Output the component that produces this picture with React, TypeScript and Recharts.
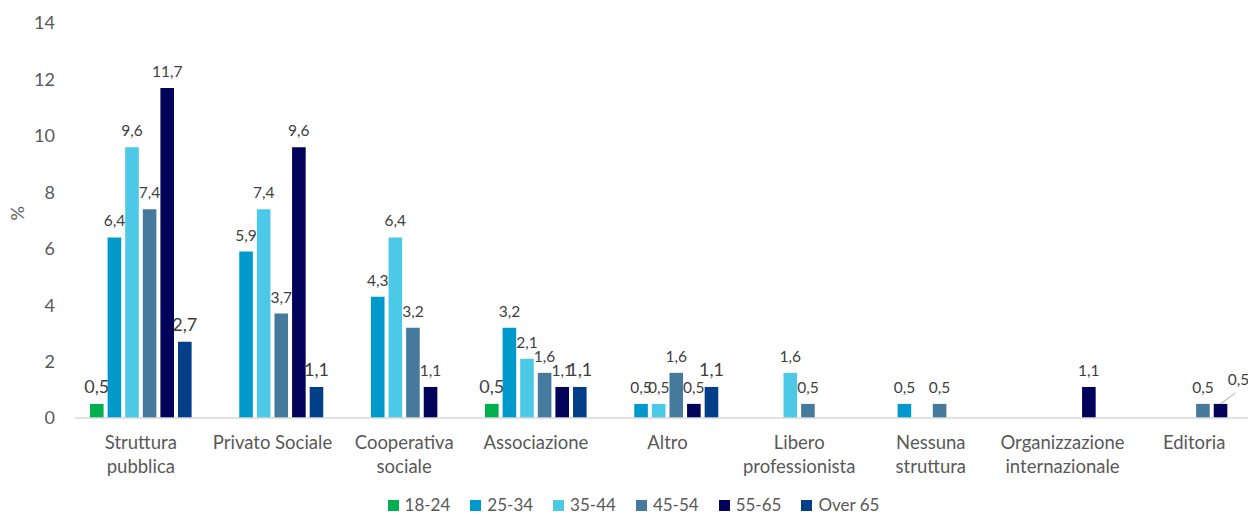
import { Bar, BarChart, LabelList, Legend, XAxis, YAxis } from "recharts";

const FONT = "Lato, 'Open Sans', sans-serif";

// categories (\n = line break in the axis label)
const categories = [
  "Struttura\npubblica",
  "Privato Sociale",
  "Cooperativa\nsociale",
  "Associazione",
  "Altro",
  "Libero\nprofessionista",
  "Nessuna\nstruttura",
  "Organizzazione\ninternazionale",
  "Editoria",
];

const age18_24 = [0.5, null, null, 0.5, null, null, null, null, null];
const age25_34 = [6.4, 5.9, 4.3, 3.2, 0.5, null, 0.5, null, null];
const age35_44 = [9.6, 7.4, 6.4, 2.1, 0.5, 1.6, null, null, null];
const age45_54 = [7.4, 3.7, 3.2, 1.6, 1.6, 0.5, 0.5, null, 0.5];
const age55_65 = [11.7, 9.6, 1.1, 1.1, 0.5, null, null, 1.1, 0.5];
const over65 = [2.7, 1.1, null, 1.1, 1.1, null, null, null, null];

const yTicks = [0, 2, 4, 6, 8, 10, 12, 14];

// the one label Excel pulled out with a leader line
const pulledOut = { series: "55-65", category: "Editoria" };

const series = [
  { key: "18-24", values: age18_24, color: "#00B050", labelSize: 18 },
  { key: "25-34", values: age25_34, color: "#0099CC", labelSize: 15.5 },
  { key: "35-44", values: age35_44, color: "#4BC9E6", labelSize: 15.5 },
  { key: "45-54", values: age45_54, color: "#467A9C", labelSize: 15.5 },
  { key: "55-65", values: age55_65, color: "#02025A", labelSize: 15.5 },
  { key: "Over 65", values: over65, color: "#033F88", labelSize: 18 },
];

const data = categories.map((name, i) => {
  const row: Record<string, any> = { name };
  series.forEach((s) => {
    const v = s.values[i];
    const out = s.key === pulledOut.series && name === pulledOut.category;
    row[s.key] = v;
    row[s.key + "_lbl"] = out ? null : v;
    row[s.key + "_out"] = out ? v : null;
  });
  return row;
});

const fmt = (v: number) => v.toFixed(1).replace(".", ",");

function makeLabel(fontSize: number, outside: boolean) {
  return (props: any) => {
    const { value } = props;
    if (value == null) return null;
    const vb = props.viewBox || props;
    const cx = vb.x + vb.width / 2;
    const top = vb.y;
    if (outside) {
      return (
        <g>
          <line x1={cx} y1={top} x2={cx + 15} y2={top - 11} stroke="#A6A6A6" strokeWidth={1} />
          <text x={cx + 18} y={top - 19} textAnchor="middle" fill="#404040" fontSize={fontSize} fontFamily={FONT}>
            {fmt(value)}
          </text>
        </g>
      );
    }
    return (
      <text x={cx} y={top - 11} textAnchor="middle" fill="#404040" fontSize={fontSize} fontFamily={FONT}>
        {fmt(value)}
      </text>
    );
  };
}

const CategoryTick = (props: any) => {
  const { x, y, payload } = props;
  const lines = String(payload.value).split("\n");
  return (
    <text x={x} y={y} textAnchor="middle" fill="#595959" fontSize={18.5} fontFamily={FONT}>
      {lines.map((l, i) => (
        <tspan key={i} x={x} dy={i === 0 ? 31 : 24}>
          {l}
        </tspan>
      ))}
    </text>
  );
};

const LegendContent = () => (
  <div
    style={{
      height: 20,
      display: "flex",
      justifyContent: "center",
      alignItems: "center",
      paddingLeft: 27,
      fontFamily: FONT,
      fontSize: 17,
      lineHeight: "18px",
      color: "#595959",
    }}
  >
    {series.map((s) => (
      <div key={s.key} style={{ display: "flex", alignItems: "center", marginRight: 20 }}>
        <span style={{ width: 11, height: 11, background: s.color, marginRight: 6, display: "inline-block" }} />
        <span>{s.key}</span>
      </div>
    ))}
  </div>
);

export default function App() {
  return (
    <div style={{ position: "absolute", left: 0, top: 0, width: 1248, height: 515, overflow: "hidden", background: "#fff" }}>
      <BarChart
        width={1270}
        height={515}
        data={data}
        margin={{ top: 23, right: 10, bottom: 17, left: 0 }}
        barSize={13.6}
        barGap={4}
      >
        <XAxis
          dataKey="name"
          interval={0}
          height={60}
          tickLine={false}
          tickSize={0}
          tickMargin={0}
          axisLine={{ stroke: "#D9D9D9", strokeWidth: 1.5 }}
          tick={<CategoryTick />}
        />
        <YAxis
          width={75}
          domain={[0, 14]}
          ticks={yTicks}
          axisLine={false}
          tickLine={false}
          tickSize={0}
          tickMargin={20}
          tick={{ fill: "#595959", fontSize: 18, fontFamily: FONT }}
          label={{ value: "%", angle: -90, position: "insideLeft", offset: 18, fill: "#595959", fontSize: 18, fontFamily: FONT }}
        />
        <Legend verticalAlign="bottom" content={<LegendContent />} wrapperStyle={{ bottom: 0 }} />
        {series.map((s) => (
          <Bar key={s.key} dataKey={s.key} fill={s.color} isAnimationActive={false}>
            <LabelList dataKey={s.key + "_lbl"} content={makeLabel(s.labelSize, false)} />
            <LabelList dataKey={s.key + "_out"} content={makeLabel(s.labelSize, true)} />
          </Bar>
        ))}
      </BarChart>
    </div>
  );
}
